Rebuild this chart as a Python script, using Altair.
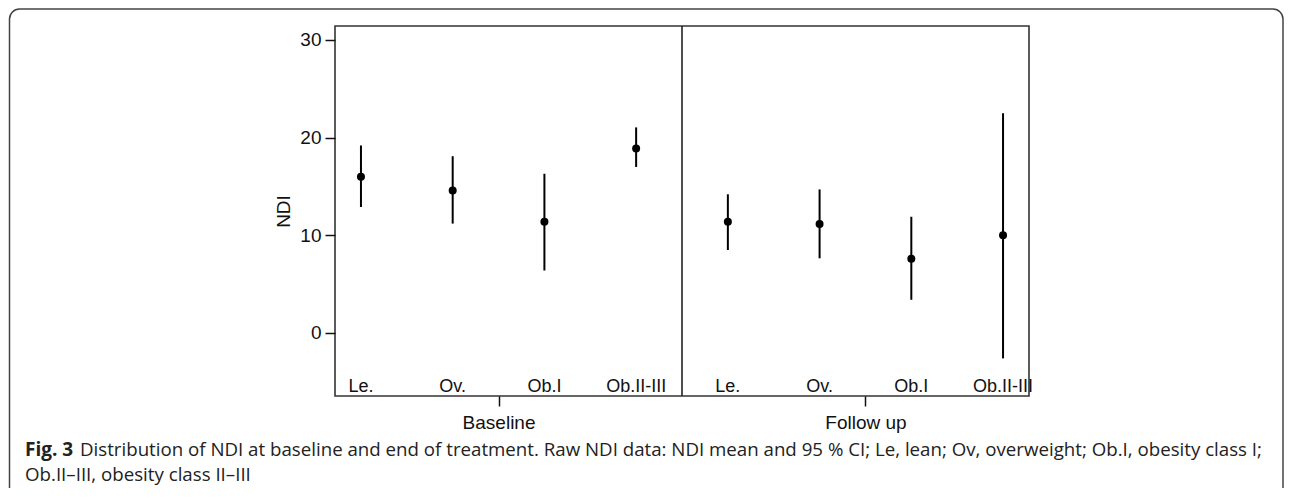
import altair as alt
import pandas as pd

# ---- data ----
groups = ["Le.", "Ov.", "Ob.I", "Ob.II-III"]
periods = ["Baseline", "Follow up"]

baseline_mean = [16.0, 14.6, 11.4, 18.9]
baseline_low = [12.9, 11.2, 6.4, 17.0]
baseline_high = [19.2, 18.1, 16.3, 21.05]

follow_mean = [11.4, 11.15, 7.6, 10.0]
follow_low = [8.5, 7.65, 3.4, -2.6]
follow_high = [14.2, 14.7, 11.9, 22.5]

y_ticks = [0, 10, 20, 30]

caption_bold = "Fig. 3"
caption_line1 = ("Distribution of NDI at baseline and end of treatment. Raw NDI data: NDI mean and "
                 "95 % CI; Le, lean; Ov, overweight; Ob.I, obesity class I;")
caption_line2 = "Ob.II\u2013III, obesity class II\u2013III"

# ---- table built from the arrays ----
rows = []
for p_i, (means, lows, highs) in enumerate([(baseline_mean, baseline_low, baseline_high),
                                            (follow_mean, follow_low, follow_high)]):
    for g_i, g in enumerate(groups):
        rows.append({
            "pos": p_i * len(groups) + g_i + 1,
            "group": g,
            "period": periods[p_i],
            "mean": means[g_i],
            "low": lows[g_i],
            "high": highs[g_i],
        })
df = pd.DataFrame(rows)

FONT = "Liberation Sans"
CAP_FONT = "Open Sans"
x_scale = alt.Scale(domain=[0.717, 8.283], nice=False, zero=False)
y_scale = alt.Scale(domain=[-6.45, 31.43], nice=False, zero=False)

period_centers = [2.5, 6.5]
label_expr = f"datum.value < 4.5 ? '{periods[0]}' : '{periods[1]}'"

x_enc = alt.X("pos:Q", scale=x_scale, title="",
              axis=alt.Axis(values=period_centers, labelExpr=label_expr, grid=False, domain=False,
                            tickSize=10, tickColor="#111", tickWidth=1.5, labelFontSize=19,
                            labelFont=FONT, labelColor="#111", labelPadding=7, labelFlush=False))
y_enc = alt.Y("mean:Q", scale=y_scale, title="NDI",
              axis=alt.Axis(values=y_ticks, grid=False, domain=False, tickSize=10, tickColor="#111",
                            tickWidth=1.5, labelFontSize=19, labelFont=FONT, labelColor="#111",
                            labelPadding=4, titleFontSize=19, titleFont=FONT, titleFontWeight="normal",
                            titleColor="#111", titlePadding=6))

base = alt.Chart(df)

bars = base.mark_rule(color="black", strokeWidth=2).encode(
    x=x_enc,
    y=alt.Y("low:Q", scale=y_scale),
    y2="high:Q",
)

points = base.mark_point(filled=True, shape="circle", size=64, color="black", opacity=1).encode(
    x=alt.X("pos:Q", scale=x_scale),
    y=y_enc,
)

group_labels = base.mark_text(fontSize=18, font=FONT, color="#111", baseline="alphabetic",
                              align="center").encode(
    x=alt.X("pos:Q", scale=x_scale),
    y=alt.value(366),
    text="group:N",
)

divider = alt.Chart(pd.DataFrame({"d": [4.5]})).mark_rule(color="#222", strokeWidth=1.6).encode(
    x=alt.X("d:Q", scale=x_scale),
)

one = pd.DataFrame({"t": [""]})

border = alt.Chart(one).mark_rect(fill="transparent", stroke="#444", strokeWidth=1.5,
                                  cornerRadius=10).encode(
    x=alt.value(-325.5), x2=alt.value(948), y=alt.value(-17), y2=alt.value(700),
)

cap_bold = alt.Chart(pd.DataFrame({"t": [caption_bold]})).mark_text(
    font=CAP_FONT, fontSize=19, fontWeight="bold", color="#222", align="left",
    baseline="alphabetic").encode(x=alt.value(-310), y=alt.value(430), text="t:N")

cap_1 = alt.Chart(pd.DataFrame({"t": [caption_line1]})).mark_text(
    font=CAP_FONT, fontSize=18.7, color="#222", align="left",
    baseline="alphabetic").encode(x=alt.value(-255), y=alt.value(430), text="t:N")

cap_2 = alt.Chart(pd.DataFrame({"t": [caption_line2]})).mark_text(
    font=CAP_FONT, fontSize=18.7, color="#222", align="left",
    baseline="alphabetic").encode(x=alt.value(-310), y=alt.value(455), text="t:N")

chart = alt.layer(bars, points, group_labels, divider, border, cap_bold, cap_1, cap_2).properties(
    width=694,
    height=370,
    background="white",
    autosize=alt.AutoSizeParams(type="none"),
    padding={"left": 327, "top": 18, "right": 255, "bottom": 92},
).configure_view(stroke="#333", strokeWidth=1.6)

chart.save("out.html", embed_options={"renderer": "svg", "actions": False})
